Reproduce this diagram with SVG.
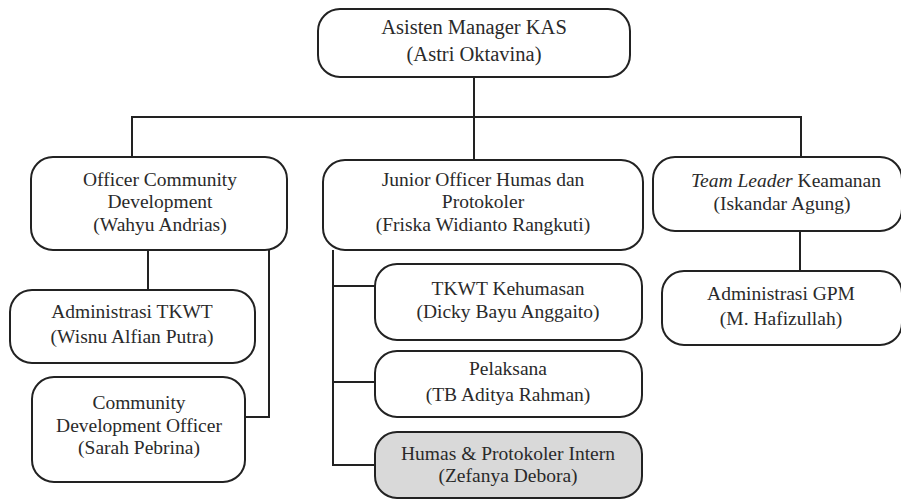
<svg xmlns="http://www.w3.org/2000/svg" width="901" height="499" viewBox="0 0 901 499">
<style>
.box{fill:#fff;stroke:#222;stroke-width:2}
.grey{fill:#d9d9d9}
.t{font-family:"Liberation Serif","Times New Roman",serif;font-size:19.5px;fill:#2a2a2a;text-anchor:middle}
.big{font-size:20.5px}
.ln{fill:none;stroke:#222;stroke-width:2}
</style>
<rect width="901" height="499" fill="#fff"/>
<g id="connectors">
<path class="ln" d="M474 77V160M132 157V117H801V157"/>
<path class="ln" d="M148 250V290M269 250V417H245"/>
<path class="ln" d="M333 250V465H375M333 286H375M333 382H375"/>
<path class="ln" d="M800 231V271"/>
</g>
<g id="asisten-manager">
<rect class="box" x="318" y="9" width="312" height="68" rx="22"/>
<text class="t big" x="474" y="34">Asisten Manager KAS</text>
<text class="t big" x="474" y="61">(Astri Oktavina)</text>
</g>
<g id="officer-cd">
<rect class="box" x="31" y="157" width="256" height="93" rx="22"/>
<text class="t" x="160" y="186">Officer Community</text>
<text class="t" x="160" y="208">Development</text>
<text class="t" x="160" y="231">(Wahyu Andrias)</text>
</g>
<g id="junior-officer">
<rect class="box" x="323" y="160" width="320" height="90" rx="22"/>
<text class="t" x="483" y="186">Junior Officer Humas dan</text>
<text class="t" x="483" y="208">Protokoler</text>
<text class="t" x="483" y="231">(Friska Widianto Rangkuti)</text>
</g>
<g id="team-leader">
<rect class="box" x="653" y="157" width="249" height="74" rx="22"/>
<text class="t" x="786" y="187"><tspan font-style="italic">Team Leader</tspan> Keamanan</text>
<text class="t" x="782" y="210">(Iskandar Agung)</text>
</g>
<g id="admin-tkwt">
<rect class="box" x="10" y="290" width="245" height="73" rx="22"/>
<text class="t" x="132" y="318">Administrasi TKWT</text>
<text class="t" x="132" y="343">(Wisnu Alfian Putra)</text>
</g>
<g id="cd-officer">
<rect class="box" x="32" y="377" width="213" height="105" rx="22"/>
<text class="t" x="139" y="409">Community</text>
<text class="t" x="139" y="432">Development Officer</text>
<text class="t" x="139" y="454">(Sarah Pebrina)</text>
</g>
<g id="tkwt-kehumasan">
<rect class="box" x="375" y="264" width="267" height="76" rx="22"/>
<text class="t" x="508" y="295">TKWT Kehumasan</text>
<text class="t" x="508" y="318">(Dicky Bayu Anggaito)</text>
</g>
<g id="pelaksana">
<rect class="box" x="375" y="351" width="267" height="66" rx="22"/>
<text class="t" x="508" y="375">Pelaksana</text>
<text class="t" x="508" y="401">(TB Aditya Rahman)</text>
</g>
<g id="humas-intern">
<rect class="box grey" x="375" y="432" width="267" height="66" rx="22"/>
<text class="t" x="508" y="460">Humas &amp; Protokoler Intern</text>
<text class="t" x="508" y="482">(Zefanya Debora)</text>
</g>
<g id="admin-gpm">
<rect class="box" x="662" y="271" width="240" height="74" rx="22"/>
<text class="t" x="781" y="300">Administrasi GPM</text>
<text class="t" x="781" y="325">(M. Hafizullah)</text>
</g>
</svg>
